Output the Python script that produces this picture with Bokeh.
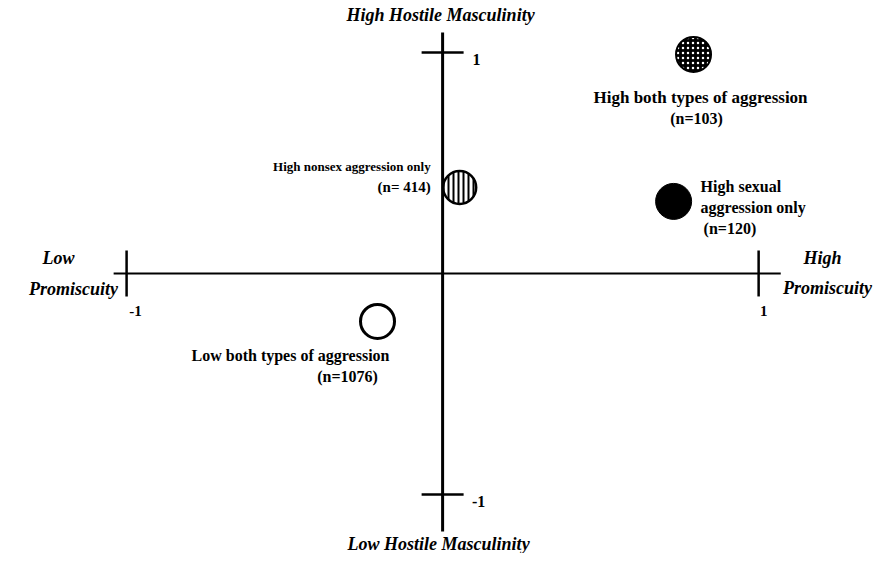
import math
from bokeh.plotting import figure
from bokeh.models import ColumnDataSource
from bokeh.core.properties import value
from bokeh.embed import file_html
from bokeh.resources import INLINE

# ---- data ----
groups = ["High both types of aggression", "High nonsex aggression only",
          "High sexual aggression only", "Low both types of aggression"]
promiscuity = [0.794, 0.054, 0.731, -0.206]
hostile_masc = [0.991, 0.389, 0.326, -0.217]
group_n = [103, 414, 120, 1076]

tick_values = [-1, 1]
tick_labels = ["-1", "1"]

x_title_low = ["Low", "Promiscuity"]
x_title_high = ["High", "Promiscuity"]
y_title_high = "High Hostile Masculinity"
y_title_low = "Low Hostile Masculinity"

FONT = value("Liberation Serif")

p = figure(width=876, height=553, x_range=(-1.399, 1.373), y_range=(-1.267, 1.235),
           output_backend="svg", toolbar_location=None, min_border=0,
           x_axis_location=None, y_axis_location=None)
p.grid.visible = False
p.outline_line_color = None

# axis lines
p.segment(x0=[-1.041, 0], y0=[0, 1.090], x1=[1.070, 0], y1=[0, -1.167],
          line_color="black", line_width=[2, 3])
# tick crosses
p.scatter(x=tick_values, y=[0, 0], marker="dash", size=46, angle=math.pi / 2,
          line_color="black", line_width=2.5)
p.scatter(x=[0, 0], y=tick_values, marker="dash", size=42,
          line_color="black", line_width=2.5)

# tick labels
p.text(x=tick_values, y=[0, 0], text=tick_labels, x_offset=[9, 5], y_offset=[38, 38],
       text_font=FONT, text_font_style="bold", text_font_size="15px",
       text_align="center", text_baseline="middle")
p.text(x=[0, 0], y=tick_values, text=tick_labels, x_offset=[36, 34], y_offset=[7, 7],
       text_font=FONT, text_font_style="bold", text_font_size="16px",
       text_align="center", text_baseline="middle")

# axis titles
TS = "18px"
p.text(x=[0], y=[p.y_range.end], text=[y_title_high], x_offset=[-2], y_offset=[14],
       text_font=FONT, text_font_style="bold italic", text_font_size=TS,
       text_align="center", text_baseline="middle")
p.text(x=[0], y=[p.y_range.start], text=[y_title_low], x_offset=[-4], y_offset=[-10],
       text_font=FONT, text_font_style="bold italic", text_font_size=TS,
       text_align="center", text_baseline="middle")
p.text(x=[p.x_range.start] * 2, y=[0, 0], text=x_title_low, x_offset=[58, 73], y_offset=[-15, 16],
       text_font=FONT, text_font_style="bold italic", text_font_size=TS,
       text_align="center", text_baseline="middle")
p.text(x=[p.x_range.end] * 2, y=[0, 0], text=x_title_high, x_offset=[-54, -49], y_offset=[-15, 15],
       text_font=FONT, text_font_style="bold italic", text_font_size=TS,
       text_align="center", text_baseline="middle")

# markers
S = 35
p.scatter(x=[promiscuity[0]], y=[hostile_masc[0]], size=S, fill_color="black",
          line_color="black", line_width=2, hatch_pattern="dot", hatch_color="white",
          hatch_scale=5, hatch_weight=1.5)
p.scatter(x=[promiscuity[1]], y=[hostile_masc[1]], size=S - 2, fill_color="white",
          line_color="black", line_width=2.5, hatch_pattern="vertical_line", hatch_color="black",
          hatch_scale=5, hatch_weight=2)
p.scatter(x=[promiscuity[2]], y=[hostile_masc[2]], size=S + 1, fill_color="black",
          line_color="black")
p.scatter(x=[promiscuity[3]], y=[hostile_masc[3]], size=S - 1, fill_color="white",
          line_color="black", line_width=3)

# group labels
lab_idx, lab_text, lab_dx, lab_dy, lab_align, lab_size = [], [], [], [], [], []
def add(i, t, dx, dy, al, fs="16px"):
    lab_idx.append(i); lab_text.append(t); lab_dx.append(dx); lab_dy.append(dy)
    lab_align.append(al); lab_size.append(fs)

add(0, groups[0], 7, 43, "center", "17px")
add(0, f"(n={group_n[0]})", 3, 64, "center")
add(1, groups[1], -29, -21, "right", "13px")
add(1, f"(n= {group_n[1]})", -29, 0, "right", "15px")
add(2, "High sexual", 27, -15, "left")
add(2, "aggression only", 27, 6, "left")
add(2, f"(n={group_n[2]})", 30, 27, "left")
add(3, groups[3], -87, 34, "center")
add(3, f"(n={group_n[3]})", -30, 55, "center")

src = ColumnDataSource(dict(x=[promiscuity[i] for i in lab_idx], y=[hostile_masc[i] for i in lab_idx],
                            text=lab_text, dx=lab_dx, dy=lab_dy, align=lab_align, fs=lab_size))
p.text(x="x", y="y", text="text", x_offset="dx", y_offset="dy", text_align="align",
       text_font_size="fs", source=src, text_font=FONT, text_font_style="bold",
       text_baseline="middle")

open("out.html", "w").write(file_html(p, INLINE))
